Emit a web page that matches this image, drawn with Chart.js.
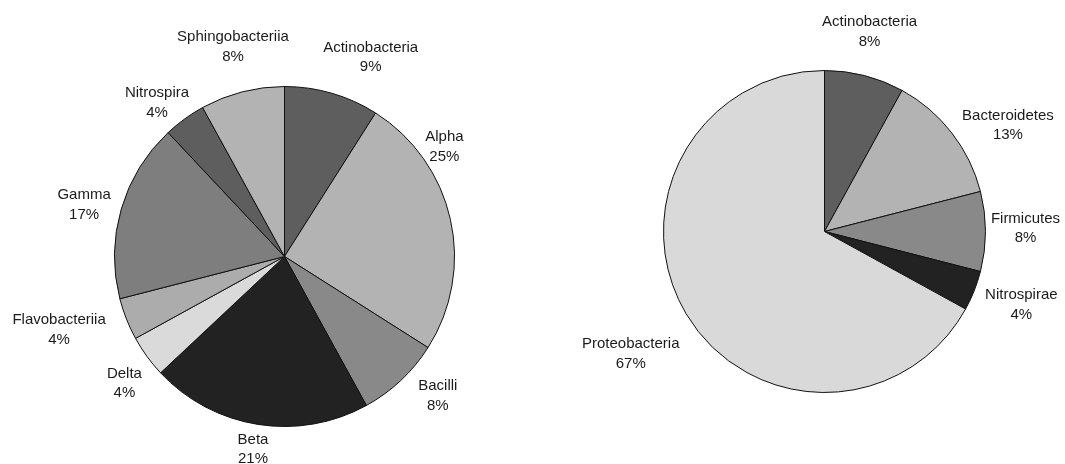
<!DOCTYPE html>
<html>
<head>
<meta charset="utf-8">
<script src="https://cdn.jsdelivr.net/npm/chart.js@4.4.1/dist/chart.umd.min.js"></script>
<style>
  html, body { margin: 0; padding: 0; background: #ffffff; }
  #wrap { position: relative; width: 1065px; height: 464px; overflow: hidden; }
  .box { position: absolute; top: 0; height: 464px; }
  #leftBox { left: 0; width: 540px; }
  #rightBox { left: 540px; width: 525px; }
</style>
</head>
<body>
<div id="wrap">
  <div class="box" id="leftBox"><canvas id="leftPie" width="540" height="464"></canvas></div>
  <div class="box" id="rightBox"><canvas id="rightPie" width="525" height="464"></canvas></div>
</div>
<script>
// Class-level composition (left pie)
const classLabels = ['Actinobacteria', 'Alpha', 'Bacilli', 'Beta', 'Delta',
                     'Flavobacteriia', 'Gamma', 'Nitrospira', 'Sphingobacteriia'];
const classValues = [9, 25, 8, 21, 4, 4, 17, 4, 8];

// Phylum-level composition (right pie)
const phylumLabels = ['Actinobacteria', 'Bacteroidetes', 'Firmicutes', 'Nitrospirae', 'Proteobacteria'];
const phylumValues = [8, 13, 8, 4, 67];

// Slice fills
const classColors = ['#5e5e5e', '#b3b3b3', '#898989', '#222222', '#dadada',
                     '#acacac', '#7e7e7e', '#5e5e5e', '#b3b3b3'];
const phylumColors = ['#5e5e5e', '#b3b3b3', '#898989', '#222222', '#d9d9d9'];

// Label placement around each slice: angular shift from the slice middle (degrees)
// and gap beyond the rim (px)
const classLabelShift = [7.2, -21.9, -4.6, 0.3, -2.3, 3.6, -1.7, -3.6, 0.6];
const classLabelGap   = [47, 24, 37, 25, 34, 67, 37, 30, 46];
const phylumLabelShift = [-1.7, 7.7, -1.0, -1.2, -1.6];
const phylumLabelGap   = [44, 51, 40, 49, 68];

const outsideLabels = {
  id: 'outsideLabels',
  afterDatasetsDraw(chart, args, opts) {
    const ctx = chart.ctx;
    const meta = chart.getDatasetMeta(0);
    const values = chart.data.datasets[0].data;
    const total = values.reduce((a, b) => a + b, 0);
    ctx.save();
    ctx.font = '15px "Liberation Sans", Arial, sans-serif';
    ctx.fillStyle = '#1b1b1b';
    ctx.textAlign = 'center';
    ctx.textBaseline = 'middle';
    meta.data.forEach((arc, i) => {
      const p = arc.getProps(['x', 'y', 'startAngle', 'endAngle', 'outerRadius'], true);
      const mid = (p.startAngle + p.endAngle) / 2 + opts.shift[i] * Math.PI / 180;
      const d = p.outerRadius + opts.gap[i];
      const cx = p.x + Math.cos(mid) * d;
      const cy = p.y + Math.sin(mid) * d;
      const pct = Math.round(values[i] / total * 100) + '%';
      ctx.fillText(chart.data.labels[i], cx, cy - 9.5);
      ctx.fillText(pct, cx, cy + 10);
    });
    ctx.restore();
  }
};

function makePie(canvasId, labels, values, colors, shift, gap, padding) {
  return new Chart(document.getElementById(canvasId), {
    type: 'pie',
    data: {
      labels: labels,
      datasets: [{
        data: values,
        backgroundColor: colors,
        borderColor: '#111111',
        borderWidth: 1,
        hoverOffset: 0,
        offset: 0
      }]
    },
    options: {
      responsive: false,
      animation: false,
      events: [],
      layout: { padding: padding },
      plugins: {
        legend: { display: false },
        tooltip: { enabled: false },
        outsideLabels: { shift: shift, gap: gap }
      }
    },
    plugins: [outsideLabels]
  });
}

makePie('leftPie', classLabels, classValues, classColors, classLabelShift, classLabelGap,
        { left: 114, top: 86, right: 85, bottom: 37 });
makePie('rightPie', phylumLabels, phylumValues, phylumColors, phylumLabelShift, phylumLabelGap,
        { left: 123, top: 70, right: 79, bottom: 71 });
</script>
</body>
</html>
